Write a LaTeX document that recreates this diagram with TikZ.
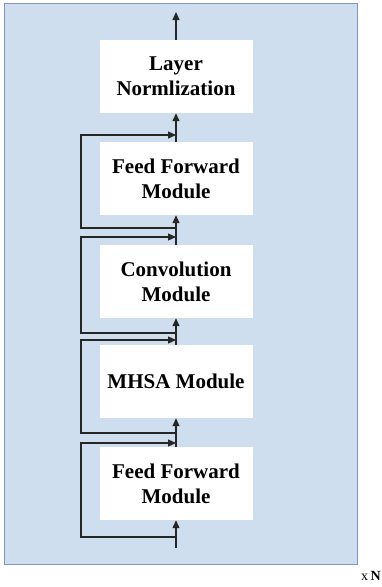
\documentclass[tikz,border=0pt]{standalone}
\usepackage{fontspec}
\setmainfont{Liberation Serif}
\usetikzlibrary{arrows.meta}
\definecolor{bgblue}{RGB}{207,222,238}
\definecolor{bgedge}{RGB}{130,150,195}
\begin{document}
\begin{tikzpicture}[x=1pt,y=-1pt,
  blk/.style={fill=white,inner sep=0pt,minimum width=153pt,minimum height=73pt,align=center,font=\fontsize{21}{25}\selectfont\bfseries},
  conn/.style={line width=1.2pt,draw=black!85},
  arr/.style={conn,-{Triangle[length=8pt,width=7pt]}}]
\useasboundingbox (0,0) rectangle (381,587);
\filldraw[fill=bgblue,draw=bgedge,line width=1pt] (4,3) rectangle (357,564);
\node[blk] (ln) at (176,76.5) {Layer\\Normlization};
\node[blk] (ff2) at (176,178.5) {Feed Forward\\Module};
\node[blk] (conv) at (176,281.5) {Convolution\\Module};
\node[blk] (mhsa) at (176,381.5) {MHSA Module};
\node[blk] (ff1) at (176,483.5) {Feed Forward\\Module};
\coordinate (in) at (176,548);
\coordinate (out) at (176,12);
\draw[arr] (in) -- (ff1.south);
\draw[arr] (ff1.north) -- (mhsa.south);
\draw[arr] (mhsa.north) -- (conv.south);
\draw[arr] (conv.north) -- (ff2.south);
\draw[arr] (ff2.north) -- (ln.south);
\draw[arr] (ln.north) -- (out);
\coordinate (b1) at (176,537); \coordinate (j1) at (176,443);
\coordinate (b2) at (176,433); \coordinate (j2) at (176,340);
\coordinate (b3) at (176,333); \coordinate (j3) at (176,237);
\coordinate (b4) at (176,228); \coordinate (j4) at (176,135);
\draw[arr] (b1) -- ++(-95,0) |- (j1);
\draw[arr] (b2) -- ++(-95,0) |- (j2);
\draw[arr] (b3) -- ++(-95,0) |- (j3);
\draw[arr] (b4) -- ++(-95,0) |- (j4);
\node[anchor=base west,inner sep=0pt,font=\fontsize{14}{16}\selectfont] (xn) at (361,580) {x\,\textbf{N}};
\end{tikzpicture}
\end{document}
